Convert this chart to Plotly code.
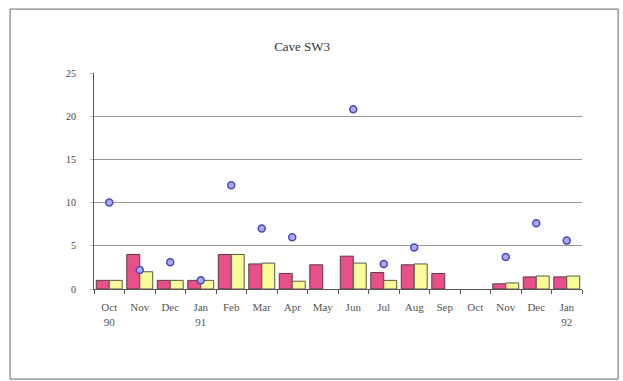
import plotly.graph_objects as go

# Monthly values for Cave SW3, Oct 1990 - Jan 1992
months = ["Oct<br>90", "Nov", "Dec", "Jan<br>91", "Feb", "Mar", "Apr", "May",
          "Jun", "Jul", "Aug", "Sep", "Oct", "Nov", "Dec", "Jan<br>92"]
series_a = [1, 4, 1, 1, 4, 2.9, 1.8, 2.8, 3.8, 1.9, 2.8, 1.8, None, 0.6, 1.4, 1.4]
series_b = [1, 2, 1, 1, 4, 3, 0.9, None, 3, 1, 2.9, None, None, 0.7, 1.5, 1.5]
points = [10, 2.2, 3.1, 1, 12, 7, 6, None, 20.8, 2.9, 4.8, None, None, 3.7, 7.6, 5.6]
y_ticks = [0, 5, 10, 15, 20, 25]

x = list(range(len(months)))
serif = "Liberation Serif, Times New Roman, serif"

fig = go.Figure()
fig.add_trace(go.Bar(x=x, y=series_a, name="A", marker=dict(color="#e9508a",
                     line=dict(color="#5a3a40", width=1))))
fig.add_trace(go.Bar(x=x, y=series_b, name="B", marker=dict(color="#fbfb9a",
                     line=dict(color="#5a5a40", width=1))))
fig.add_trace(go.Scatter(x=x, y=points, mode="markers", name="C",
                         marker=dict(size=7, color="#a9a9ee",
                                     line=dict(color="#4848b8", width=1.5))))
# overlay axis carrying the tick marks at category boundaries
fig.add_trace(go.Scatter(x=[-0.5, len(months) - 0.5], y=[None, None], xaxis="x2",
                         showlegend=False, hoverinfo="skip"))

fig.update_layout(
    width=623, height=381,
    margin=dict(l=94, r=41, t=73, b=92),
    paper_bgcolor="white", plot_bgcolor="white",
    showlegend=False,
    barmode="group", bargap=0.15, bargroupgap=0,
    title=dict(text="Cave SW3", x=0.485, xanchor="center", y=0.877, yanchor="middle",
               font=dict(family=serif, size=13, color="#333")),
    font=dict(family=serif, size=10, color="#444"),
    xaxis=dict(range=[-0.5, len(months) - 0.5], tickmode="array", tickvals=x,
               ticktext=months, ticks="", showgrid=False, zeroline=False,
               showline=True, linecolor="#555", linewidth=1, ticklabelstandoff=8,
               tickfont=dict(family=serif, size=11, color="#555")),
    xaxis2=dict(overlaying="x", range=[-0.5, len(months) - 0.5], tickmode="array",
                tickvals=[i - 0.5 for i in range(len(months) + 1)], ticks="outside",
                ticklen=4, tickcolor="#555", showticklabels=False, showgrid=False,
                zeroline=False, side="bottom", anchor="y"),
    yaxis=dict(range=[0, 25], tickmode="array", tickvals=y_ticks,
               showgrid=True, gridcolor="#9a9a9a", gridwidth=1, zeroline=False,
               showline=True, linecolor="#555", linewidth=1,
               ticks="outside", ticklen=3, tickcolor="#bbb", ticklabelstandoff=12,
               tickfont=dict(family=serif, size=10, color="#444")),
    shapes=[dict(type="rect", xref="paper", yref="paper", x0=-0.172, x1=1.074,
                 y0=-0.417, y1=1.296, line=dict(color="#666", width=1))],
)

fig.write_html("out.html")
